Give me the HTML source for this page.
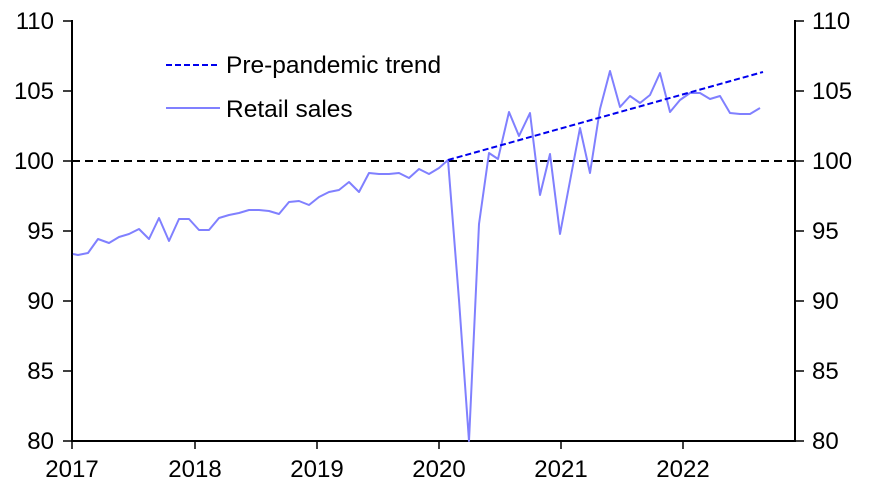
<!DOCTYPE html>
<html><head><meta charset="utf-8"><style>
body{margin:0;background:#fff}
svg{display:block;font-family:"Liberation Sans",Arial,sans-serif}
</style></head><body>
<svg width="879" height="487" viewBox="0 0 879 487">
<g stroke="#000" stroke-width="2" fill="none">
<line x1="72" y1="20" x2="72" y2="442"/>
<line x1="795" y1="20" x2="795" y2="442"/>
<line x1="71" y1="441" x2="796" y2="441"/>
</g>
<g stroke="#000" stroke-width="1.5">
<line x1="63" y1="21" x2="72" y2="21"/><line x1="63" y1="91" x2="72" y2="91"/><line x1="63" y1="161" x2="72" y2="161"/><line x1="63" y1="231" x2="72" y2="231"/><line x1="63" y1="301" x2="72" y2="301"/><line x1="63" y1="371" x2="72" y2="371"/><line x1="63" y1="441" x2="72" y2="441"/>
<line x1="795" y1="21" x2="804" y2="21"/><line x1="795" y1="91" x2="804" y2="91"/><line x1="795" y1="161" x2="804" y2="161"/><line x1="795" y1="231" x2="804" y2="231"/><line x1="795" y1="301" x2="804" y2="301"/><line x1="795" y1="371" x2="804" y2="371"/><line x1="795" y1="441" x2="804" y2="441"/>
<line x1="72" y1="441" x2="72" y2="449"/><line x1="195" y1="441" x2="195" y2="449"/><line x1="317" y1="441" x2="317" y2="449"/><line x1="439" y1="441" x2="439" y2="449"/><line x1="561" y1="441" x2="561" y2="449"/><line x1="683" y1="441" x2="683" y2="449"/>
</g>
<g font-size="24" fill="#000" text-anchor="end">
<text x="54" y="29">110</text><text x="54" y="99">105</text><text x="54" y="169">100</text><text x="54" y="239">95</text><text x="54" y="309">90</text><text x="54" y="379">85</text><text x="54" y="449">80</text>
</g>
<g font-size="24" fill="#000" text-anchor="start">
<text x="812" y="29">110</text><text x="812" y="99">105</text><text x="812" y="169">100</text><text x="812" y="239">95</text><text x="812" y="309">90</text><text x="812" y="379">85</text><text x="812" y="449">80</text>
</g>
<g font-size="24" fill="#000" text-anchor="middle">
<text x="72" y="477">2017</text><text x="195" y="477">2018</text><text x="317" y="477">2019</text><text x="439" y="477">2020</text><text x="561" y="477">2021</text><text x="683" y="477">2022</text>
</g>
<line x1="72" y1="161" x2="795" y2="161" stroke="#000" stroke-width="2" stroke-dasharray="8,5"/>
<polyline fill="none" stroke="#8080ff" stroke-width="2" stroke-linejoin="round" points="73,254 78,255 88,253 98,239 109,243 119,237 129,234 139,229 149,239 159,218 169,241 179,219 189,219 199,230 209,230 219,218 229,215 239,213 249,210 259,210 269,211 279,214 289,202 299,201 309,205 319,197 329,192 339,190 349,182 359,192 369,173 379,174 389,174 399,173 409,178 419,169 429,174 439,168 448,160 459,300 469,441 479,224 489,153 498,159 509,112 519,136 530,113 540,195 550,154 560,234 570,181 580,128 590,173 600,109 610,71 620,107 630,96 640,103 650,95 660,73 670,112 680,100 690,93 700,93 710,99 720,96 730,113 740,114 750,114 760,108"/>
<line x1="448" y1="160" x2="763" y2="72" stroke="#0000ee" stroke-width="2" stroke-dasharray="6,3"/>
<line x1="166" y1="65" x2="220" y2="65" stroke="#0000ee" stroke-width="2" stroke-dasharray="6,3"/>
<line x1="166" y1="108" x2="220" y2="108" stroke="#8080ff" stroke-width="2"/>
<g font-size="24.5" fill="#000"><text x="226" y="73">Pre-pandemic trend</text><text x="226" y="117">Retail sales</text></g>
</svg>
</body></html>
